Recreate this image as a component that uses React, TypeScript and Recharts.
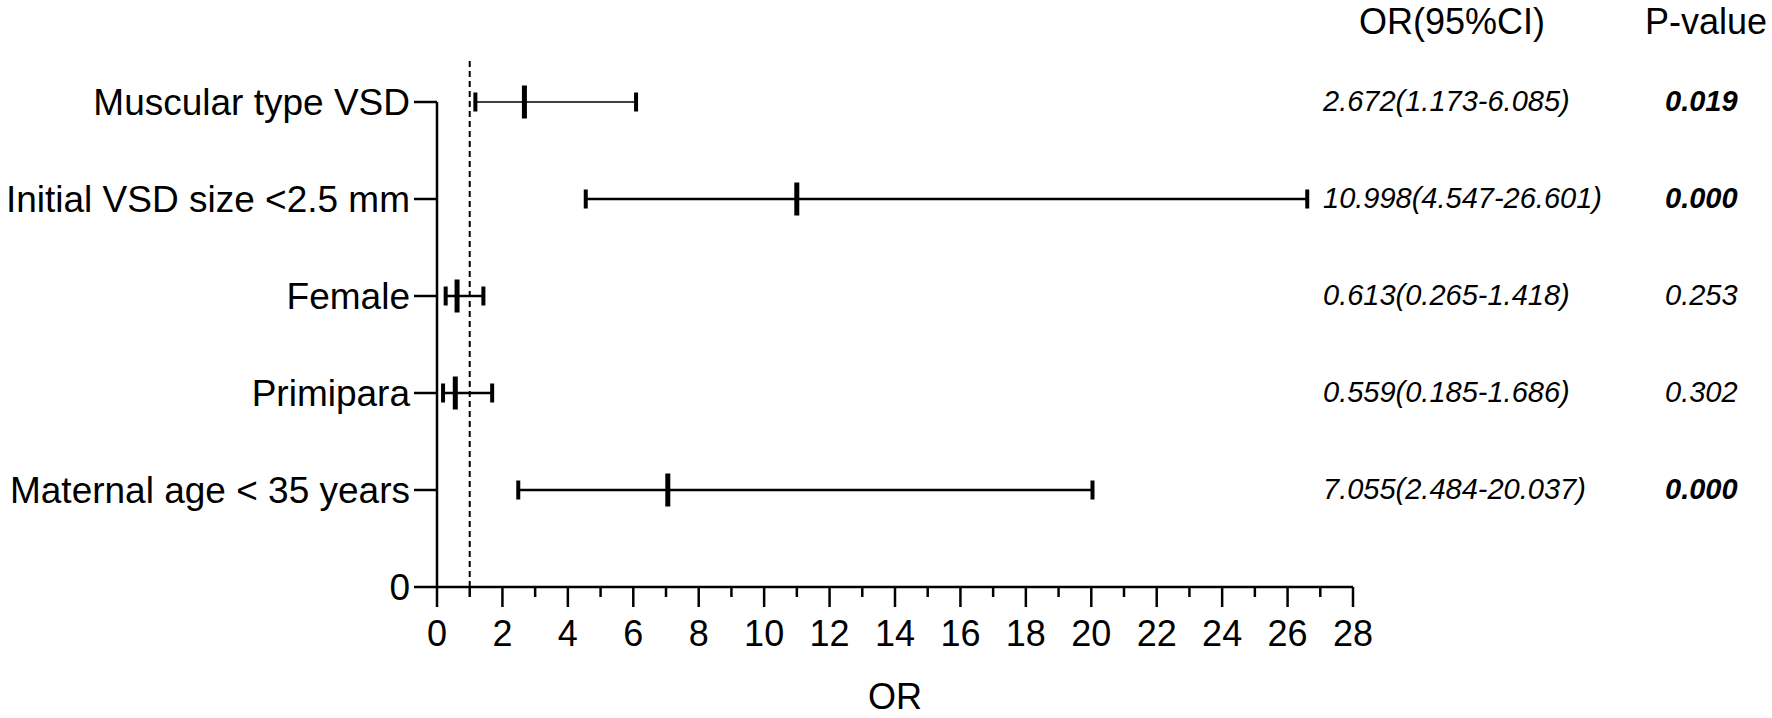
import { ScatterChart, Scatter, XAxis, YAxis, ErrorBar, ReferenceLine, Label } from "recharts"

// Forest plot of odds ratios (95% CI)
const categories = [
  "Muscular type VSD",
  "Initial VSD size <2.5 mm",
  "Female",
  "Primipara",
  "Maternal age < 35 years",
]
const rowPositions = [5, 4, 3, 2, 1]
const oddsRatios = [2.672, 10.998, 0.613, 0.559, 7.055]
const ciLow = [1.173, 4.547, 0.265, 0.185, 2.484]
const ciHigh = [6.085, 26.601, 1.418, 1.686, 20.037]
const pValues = ["0.019", "0.000", "0.253", "0.302", "0.000"]
const significant = [true, true, false, false, true]
const lineWidths = [1.5, 2.5, 2.5, 2.5, 2.5]

const xTicks = [0, 1, 2, 3, 4, 5, 6, 7, 8, 9, 10, 11, 12, 13, 14, 15, 16, 17, 18, 19, 20, 21, 22, 23, 24, 25, 26, 27, 28]
const yTicks = [0, 1, 2, 3, 4, 5]

const FONT = "Arial, 'Liberation Sans', Helvetica, sans-serif"

const orPoints = categories.map((name, i) => ({
  name,
  x: oddsRatios[i],
  y: rowPositions[i],
  err: [oddsRatios[i] - ciLow[i], ciHigh[i] - oddsRatios[i]],
}))
const lowPoints = categories.map((_, i) => ({ x: ciLow[i], y: rowPositions[i] }))
const highPoints = categories.map((_, i) => ({ x: ciHigh[i], y: rowPositions[i] }))

const rowIndex = (v: number) => rowPositions.indexOf(v)

function LeftTick(props: any) {
  const { x, y, payload } = props
  const i = rowIndex(payload.value)
  const label = i < 0 ? String(payload.value) : categories[i]
  return (
    <g>
      <line x1={x} x2={x - 23} y1={y} y2={y} stroke="#000" strokeWidth={2.5} />
      <text x={x - 27} y={y} dy={13} textAnchor="end" fontSize={37} fontFamily={FONT} fill="#000">
        {label}
      </text>
    </g>
  )
}

function RightTick(props: any) {
  const { x, y, payload } = props
  const i = rowIndex(payload.value)
  if (i < 0) return null
  const ci = `${oddsRatios[i].toFixed(3)}(${ciLow[i].toFixed(3)}-${ciHigh[i].toFixed(3)})`
  return (
    <g fontFamily={FONT} fill="#000">
      {i === 0 && (
        <>
          <text x={x + 99} y={y - 68} textAnchor="middle" fontSize={36}>OR(95%CI)</text>
          <text x={x + 353} y={y - 68} textAnchor="middle" fontSize={36}>P-value</text>
        </>
      )}
      <text x={x - 30} y={y + 9} fontSize={29} fontStyle="italic">{ci}</text>
      <text x={x + 312} y={y + 9} fontSize={29} fontStyle="italic" fontWeight={significant[i] ? "bold" : "normal"}>
        {pValues[i]}
      </text>
    </g>
  )
}

function BottomTick(props: any) {
  const { x, y, payload } = props
  const major = payload.value % 2 === 0
  return (
    <g>
      <line x1={x} x2={x} y1={y} y2={y + (major ? 20 : 10)} stroke="#000" strokeWidth={2.5} />
      {major && (
        <text x={x} y={y + 59} textAnchor="middle" fontSize={36} fontFamily={FONT} fill="#000">
          {payload.value}
        </text>
      )}
    </g>
  )
}

const capShape = (props: any) => (
  <rect x={props.cx - 2} y={props.cy - 9.5} width={4} height={19} fill="#000" />
)
const orShape = (props: any) => (
  <rect x={props.cx - 2.5} y={props.cy - 16.5} width={5} height={33} fill="#000" />
)

export default function App() {
  return (
    <div style={{ position: "absolute", left: 0, top: 0, width: 1772, height: 718, background: "#fff" }}>
      <ScatterChart width={1772} height={718} margin={{ top: 102, right: 0, bottom: 0, left: 0 }}>
        <XAxis
          type="number"
          dataKey="x"
          domain={[0, 28]}
          ticks={xTicks}
          interval={0}
          height={131}
          tickSize={0}
          tickMargin={0}
          tickLine={false}
          tick={<BottomTick />}
          axisLine={{ stroke: "#000", strokeWidth: 2.5 }}
        >
          <Label
            value="OR"
            position="insideBottom"
            offset={9}
            fontSize={36}
            fontFamily={FONT}
            fill="#000"
          />
        </XAxis>
        <YAxis
          type="number"
          dataKey="y"
          domain={[0, 5]}
          ticks={yTicks}
          interval={0}
          width={437}
          tickSize={0}
          tickMargin={0}
          tickLine={false}
          tick={<LeftTick />}
          axisLine={{ stroke: "#000", strokeWidth: 2.5 }}
        />
        <YAxis
          yAxisId="right"
          orientation="right"
          type="number"
          dataKey="y"
          domain={[0, 5]}
          ticks={yTicks}
          interval={0}
          width={419}
          tickSize={0}
          tickMargin={0}
          tickLine={false}
          axisLine={false}
          tick={<RightTick />}
        />
        <ReferenceLine
          segment={[{ x: 1, y: 0 }, { x: 1, y: 5.45 }]}
          stroke="#000"
          strokeWidth={2}
          strokeDasharray="6 4"
          ifOverflow="visible"
        />
        {orPoints.map((p, i) => (
          <Scatter key={p.name} data={[p]} fill="#000" shape={orShape} isAnimationActive={false}>
            <ErrorBar
              dataKey="err"
              direction="x"
              width={0}
              stroke="#000"
              strokeWidth={lineWidths[i]}
              isAnimationActive={false}
            />
          </Scatter>
        ))}
        <Scatter data={lowPoints} fill="#000" shape={capShape} isAnimationActive={false} />
        <Scatter yAxisId="right" data={highPoints} fill="#000" shape={capShape} isAnimationActive={false} />
      </ScatterChart>
    </div>
  )
}
